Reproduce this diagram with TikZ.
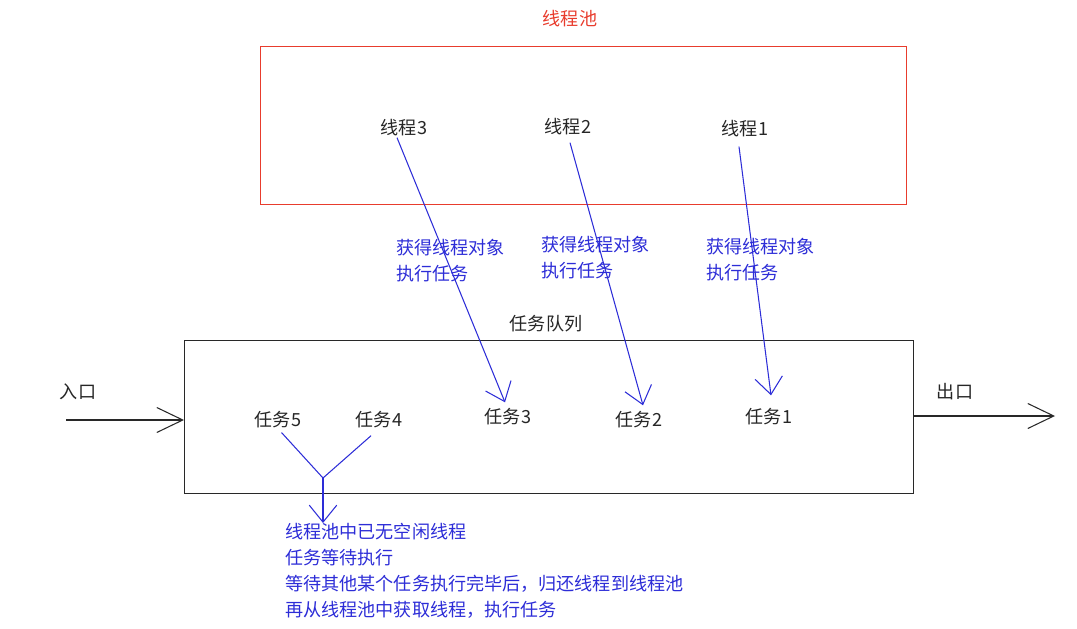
\documentclass[tikz,border=0pt]{standalone}
\usepackage{fontspec}
\setmainfont{Noto Sans CJK SC}
\usetikzlibrary{arrows.meta}
\definecolor{poolred}{RGB}{232,60,45}
\definecolor{noteblue}{RGB}{45,45,215}
\definecolor{boxgrey}{RGB}{40,40,40}
\tikzset{
  pool/.style={draw=poolred, line width=0.7pt},
  que/.style={draw=boxgrey, line width=0.7pt},
  lbl/.style={inner sep=0pt, font=\fontsize{10.3}{14.7}\selectfont, text=black!85},
  note/.style={inner sep=0pt, align=left, font=\fontsize{10.3}{14.7}\selectfont, text=noteblue},
  ar/.style={-{Straight Barb[length=3.4mm,width=5.5mm]}, draw=noteblue, line width=0.6pt},
  io/.style={-{Straight Barb[length=5.2mm,width=5mm]}, draw=boxgrey, line width=0.6pt},
}

\begin{document}
\begin{tikzpicture}[x=0.02cm, y=-0.02cm]
\useasboundingbox (0,0) rectangle (1077,628);

% thread pool
\node[lbl, text=poolred] (ptitle) at (570,19) {线程池};
\node[pool, minimum width=12.92cm, minimum height=3.16cm, anchor=north west] (pool) at (260,46) {};
\node[lbl] (th3) at (404,128) {线程3};
\node[lbl] (th2) at (568,127) {线程2};
\node[lbl] (th1) at (745,129) {线程1};

\node[note, anchor=west] (n3) at (396,261) {获得线程对象\\执行任务};
\node[note, anchor=west] (n2) at (541,258) {获得线程对象\\执行任务};
\node[note, anchor=west] (n1) at (706,260) {获得线程对象\\执行任务};

% task queue
\node[lbl] (qtitle) at (546,324) {任务队列};
\node[que, minimum width=14.58cm, minimum height=3.06cm, anchor=north west] (queue) at (184,340) {};
\node[lbl] (task5) at (278,420) {任务5};
\node[lbl] (task4) at (379,420) {任务4};
\node[lbl] (task3) at (508,417) {任务3};
\node[lbl] (task2) at (639,420) {任务2};
\node[lbl] (task1) at (769,417) {任务1};

% in / out
\node[lbl] (inlbl) at (78,392) {入口};
\node[lbl] (outlbl) at (955,392) {出口};
\coordinate (in) at (66,420);
\coordinate (out) at (1055,416);
\draw[io] (in) -- (in -| queue.west);
\draw[io] (queue.east |- out) -- (out);

% threads take tasks
\draw[ar] ([shift={(-7,1)}]th3.south) -- ([shift={(-3,-6)}]task3.north);
\draw[ar] ([shift={(2,7)}]th2.south) -- ([shift={(4,-6)}]task2.north);
\draw[ar] ([shift={(-6,9)}]th1.south) -- ([shift={(2,-13)}]task1.north);

% waiting tasks
\node[note, anchor=north west] (wait) at (285,523)
  {线程池中已无空闲线程\\任务等待执行\\等待其他某个任务执行完毕后，归还线程到线程池\\再从线程池中获取线程，执行任务};
\coordinate (jn) at (323,478);
\draw[draw=noteblue, line width=0.6pt, shorten <=3pt] (task5.south) -- (jn);
\draw[draw=noteblue, line width=0.6pt, shorten <=6pt] (task4.south) -- (jn);
\draw[ar] (jn) -- (jn |- wait.north);
\end{tikzpicture}
\end{document}
